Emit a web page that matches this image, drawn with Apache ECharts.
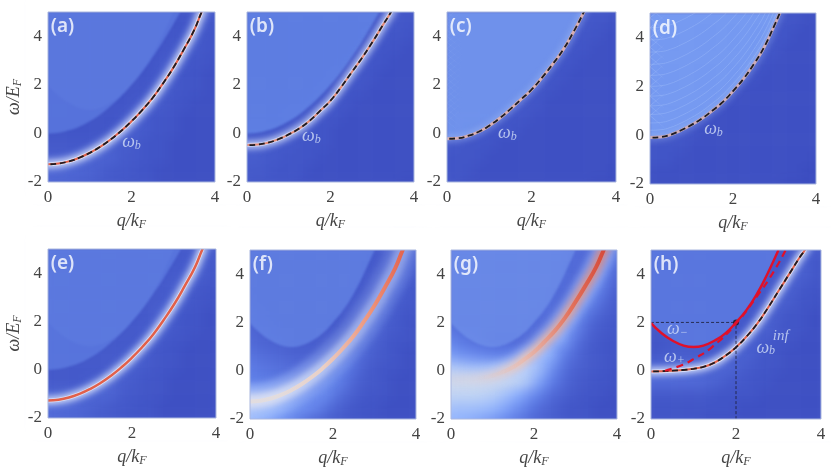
<!DOCTYPE html>
<html>
<head>
<meta charset="UTF-8"/>
<title>chart</title>
<script src="https://cdn.jsdelivr.net/npm/echarts@6/dist/echarts.min.js"></script>
<style>
html,body{margin:0;padding:0;background:#fff}
#main{width:831px;height:476px}
/* the picture is a soft raster: blur only the colour layers */
canvas[data-zr-dom-id="zr_0"]{filter:blur(6px)}
canvas[data-zr-dom-id="zr_1"]{filter:blur(0.8px)}
canvas[data-zr-dom-id="zr_2"]{filter:blur(3px)}
canvas[data-zr-dom-id="zr_3"]{filter:blur(0.4px)}
</style>
</head>
<body>
<div id="main"></div>
<script>
var xTicks = [0, 2, 4];
var yTicks = [-2, 0, 2, 4];
// heatmap bins
var qBins = [0.125,0.375,0.625,0.875,1.125,1.375,1.625,1.875,2.125,2.375,2.625,2.875,3.125,3.375,3.625,3.875];
var wBins = [-1.75,-1.25,-0.75,-0.25,0.25,0.75,1.25,1.75,2.25,2.75,3.25,3.75,4.25,4.75];

// colour level x100, rows from the top of the panel down
var fieldA = [
[2,2,2,2,2,2,2,2,2,2,2,2,2,2,4,2],
[2,2,2,2,2,2,2,2,2,2,2,2,2,4,3,2],
[2,2,2,2,2,2,2,2,2,2,2,2,3,4,2,2],
[2,2,2,2,2,2,2,2,2,2,2,3,4,3,2,2],
[2,2,2,2,2,2,2,2,2,2,3,4,3,2,2,1],
[2,2,2,2,2,2,2,2,2,2,4,3,2,2,1,1],
[2,2,2,2,2,2,2,2,2,3,4,3,2,2,1,1],
[2,2,2,2,2,2,2,2,3,4,3,2,2,1,1,1],
[2,2,2,2,2,2,2,3,4,3,2,2,1,1,1,1],
[2,2,2,2,2,2,3,4,4,3,2,2,1,1,1,1],
[3,3,3,3,3,4,4,4,3,2,2,1,1,1,1,1],
[4,4,4,4,5,5,5,3,3,2,2,1,1,1,1,1],
[6,6,6,6,5,4,3,3,2,2,1,1,1,1,1,1],
[6,5,5,4,4,3,3,2,2,2,1,1,1,1,1,1]];
var fieldB = [
[2,2,2,2,2,2,2,2,2,2,2,2,3,3,2,2],
[2,2,2,2,2,2,2,2,2,2,2,2,3,3,2,2],
[2,2,2,2,2,2,2,2,2,2,2,3,3,2,2,1],
[2,2,2,2,2,2,2,2,2,2,3,3,2,2,1,1],
[2,2,2,2,2,2,2,2,2,3,3,2,2,1,1,1],
[2,2,2,2,2,2,2,2,3,3,2,2,1,1,1,1],
[2,2,2,2,2,2,2,3,3,2,2,1,1,1,1,1],
[2,2,2,2,2,2,3,3,2,2,1,1,1,1,1,1],
[2,2,2,2,3,3,3,2,2,1,1,1,1,1,1,1],
[3,3,3,3,3,3,2,2,1,1,1,1,1,1,1,1],
[4,4,4,3,3,2,2,2,1,1,1,1,1,1,1,1],
[4,4,3,3,2,2,2,1,1,1,1,1,1,1,1,1],
[3,3,3,2,2,2,1,1,1,1,1,1,1,1,1,1],
[3,2,2,2,2,1,1,1,1,1,1,1,1,1,0,0]];
var fieldC = [
[2,2,2,2,2,2,2,2,2,2,2,2,2,3,2,1],
[2,2,2,2,2,2,2,2,2,2,2,2,3,2,2,1],
[2,2,2,2,2,2,2,2,2,2,2,3,2,2,1,1],
[2,2,2,2,2,2,2,2,2,2,3,2,2,1,1,1],
[2,2,2,2,2,2,2,2,2,3,2,2,1,1,1,1],
[2,2,2,2,2,2,2,2,3,2,2,1,1,1,1,1],
[2,2,2,2,2,2,2,3,2,2,1,1,1,1,1,1],
[2,2,2,2,2,3,3,2,2,1,1,1,1,1,1,1],
[2,3,3,3,3,2,2,2,1,1,1,1,1,1,1,1],
[3,3,3,2,2,2,2,1,1,1,1,1,1,1,1,1],
[3,3,2,2,2,1,1,1,1,1,1,1,1,1,1,1],
[2,2,2,2,1,1,1,1,1,1,1,1,1,1,1,1],
[2,2,2,1,1,1,1,1,1,1,1,1,1,1,1,0],
[2,2,1,1,1,1,1,1,1,1,1,1,1,0,0,0]];
var fieldD = [
[2,2,2,2,2,2,2,2,2,2,2,2,2,2,1,1],
[2,2,2,2,2,2,2,2,2,2,2,2,2,2,1,1],
[2,2,2,2,2,2,2,2,2,2,2,2,2,1,1,1],
[2,2,2,2,2,2,2,2,2,2,2,2,1,1,1,1],
[2,2,2,2,2,2,2,2,2,2,2,1,1,1,1,1],
[2,2,2,2,2,2,2,2,2,2,1,1,1,1,1,1],
[2,2,2,2,2,2,2,2,1,1,1,1,1,1,1,1],
[2,2,2,2,2,2,2,1,1,1,1,1,1,1,1,1],
[3,3,3,2,2,2,1,1,1,1,1,1,1,1,1,1],
[3,2,2,2,2,1,1,1,1,1,1,1,1,1,1,1],
[2,2,2,2,1,1,1,1,1,1,1,1,1,1,1,1],
[2,2,2,1,1,1,1,1,1,1,1,1,1,1,1,0],
[1,1,1,1,1,1,1,1,1,1,1,1,1,1,0,0],
[1,1,1,1,1,1,1,1,1,1,1,1,0,0,0,0]];
var fieldE = [
[3,3,3,3,3,3,3,3,3,3,3,3,3,3,5,2],
[3,3,3,3,3,3,3,3,3,3,3,3,3,5,4,2],
[3,3,3,3,3,3,3,3,3,3,3,3,4,5,3,2],
[3,3,3,3,3,3,3,3,3,3,3,4,5,3,2,2],
[3,3,3,3,3,3,3,3,3,3,3,5,4,2,2,1],
[3,3,3,3,3,3,3,3,3,3,5,4,2,2,1,1],
[3,3,3,3,3,3,3,3,3,4,5,3,2,2,1,1],
[3,3,3,3,3,3,3,3,3,5,3,2,2,1,1,1],
[3,3,3,3,3,3,3,4,5,3,2,2,1,1,1,1],
[3,3,3,3,3,3,4,5,4,3,2,2,1,1,1,1],
[3,3,3,3,4,4,5,4,3,2,2,1,1,1,1,1],
[5,5,5,5,6,6,5,3,3,2,2,1,1,1,1,1],
[7,7,7,6,5,4,3,3,2,2,1,1,1,1,1,1],
[7,6,5,5,4,3,3,2,2,2,1,1,1,1,1,1]];
var fieldF = [
[4,4,4,4,4,4,4,4,4,4,4,4,3,3,7,4],
[4,4,4,4,4,4,4,4,4,4,4,3,3,6,7,3],
[4,4,4,4,4,4,4,4,4,4,4,3,4,8,5,3],
[4,4,4,4,4,4,4,4,4,4,3,3,7,7,3,2],
[5,4,4,4,4,4,4,4,4,4,3,5,8,4,3,2],
[5,5,4,4,4,4,4,4,4,3,4,8,6,3,2,2],
[6,5,5,4,4,4,4,4,3,3,7,8,4,3,2,1],
[7,6,5,5,4,4,4,4,4,5,9,5,3,2,2,1],
[9,8,7,6,5,5,5,5,6,10,7,4,3,2,1,1],
[11,10,9,8,7,7,7,8,12,10,5,3,2,2,1,1],
[12,12,11,10,10,10,11,14,12,7,4,3,2,1,1,1],
[18,18,17,16,15,15,15,14,8,5,3,2,2,1,1,1],
[30,29,26,23,19,16,13,8,5,3,2,2,1,1,1,1],
[29,26,22,17,12,8,5,4,3,2,2,1,1,1,1,1]];
var fieldG = [
[8,8,8,8,8,8,8,8,8,8,8,7,6,7,14,8],
[8,8,8,8,8,8,8,8,8,8,8,7,7,12,15,6],
[8,8,8,8,8,8,8,8,8,8,8,6,9,16,10,4],
[8,8,8,8,8,8,8,8,8,8,7,7,13,15,7,4],
[8,8,8,8,8,8,8,8,8,8,6,9,17,10,5,3],
[8,8,8,8,8,8,8,8,8,7,9,17,11,6,4,3],
[9,8,8,8,8,8,8,8,7,8,17,15,7,4,3,2],
[13,11,9,8,7,7,7,7,9,15,22,10,5,3,2,2],
[20,17,15,13,12,12,13,16,23,26,12,7,4,3,2,2],
[34,32,30,29,29,30,32,34,30,17,9,5,4,3,2,1],
[42,42,42,42,42,41,39,33,21,12,7,4,3,2,2,1],
[38,38,38,37,35,31,25,18,12,7,5,3,2,2,1,1],
[31,30,30,29,27,22,16,11,7,5,3,2,2,1,1,1],
[26,25,23,20,17,13,10,7,5,4,3,2,2,1,1,1]];
var fieldH = [
[3,3,3,3,3,3,3,3,3,3,3,3,3,3,5,2],
[3,3,3,3,3,3,3,3,3,3,3,3,3,5,3,2],
[3,3,3,3,3,3,3,3,3,3,3,3,4,5,3,2],
[3,3,3,3,3,3,3,3,3,3,3,4,5,3,2,2],
[3,3,3,3,3,3,3,3,3,3,3,5,4,2,2,1],
[3,3,3,3,3,3,3,3,3,3,5,4,2,2,1,1],
[3,3,3,3,3,3,3,3,3,4,5,3,2,2,1,1],
[2,2,3,3,3,3,3,3,3,5,3,2,2,1,1,1],
[2,3,4,4,4,4,4,3,5,4,2,2,1,1,1,1],
[6,6,6,6,5,5,6,6,4,3,2,2,1,1,1,1],
[7,7,7,7,7,6,5,3,3,2,2,1,1,1,1,1],
[3,3,3,3,3,3,2,2,2,2,1,1,1,1,1,1],
[2,2,2,2,2,2,2,2,1,1,1,1,1,1,1,1],
[2,2,2,2,2,1,1,1,1,1,1,1,1,1,1,1]];

// bound state branches [q, omega]
var curveA = [[-0.4,-1.27],[0,-1.27],[0.25,-1.24],[0.5,-1.15],[0.75,-1],[1,-0.8],[1.25,-0.55],[1.5,-0.25],[1.75,0.1],[2,0.5],[2.25,0.95],[2.5,1.45],[2.75,2.05],[3,2.7],[3.25,3.45],[3.5,4.25],[3.68,5],[3.9,5.8]];
var curveB = [[-0.4,-0.48],[0,-0.48],[0.25,-0.46],[0.5,-0.38],[0.75,-0.24],[1,-0.04],[1.25,0.2],[1.5,0.52],[1.75,0.93],[2,1.35],[2.25,1.9],[2.5,2.5],[2.75,3.1],[3,3.75],[3.25,4.45],[3.45,5],[3.6,5.5]];
var curveC = [[-0.4,-0.22],[0,-0.22],[0.25,-0.2],[0.5,-0.1],[0.75,0.07],[1,0.32],[1.25,0.63],[1.5,1],[1.75,1.4],[2,1.8],[2.25,2.3],[2.5,2.85],[2.75,3.45],[3,4.2],[3.24,5],[3.4,5.6]];
var curveD = [[-0.4,-0.1],[0,-0.1],[0.25,-0.08],[0.5,0.02],[0.75,0.2],[1,0.42],[1.25,0.68],[1.5,1],[1.75,1.35],[2,1.8],[2.25,2.3],[2.5,2.9],[2.75,3.6],[3,4.5],[3.13,5],[3.3,5.6]];
var curveG = [[-0.4,-0.35],[0,-0.35],[0.25,-0.34],[0.5,-0.32],[0.75,-0.28],[1,-0.2],[1.25,-0.05],[1.5,0.15],[1.75,0.45],[2,0.78],[2.25,1.2],[2.5,1.65],[2.75,2.2],[3,2.85],[3.25,3.55],[3.5,4.3],[3.68,5],[3.9,5.8]];
var curveH = [[-0.4,-0.03],[0,-0.03],[0.25,-0.02],[0.5,0],[0.75,0.03],[1,0.08],[1.25,0.17],[1.5,0.34],[1.75,0.62],[2,0.97],[2.25,1.42],[2.5,1.95],[2.75,2.6],[3,3.3],[3.25,4],[3.5,4.7],[3.62,5],[3.8,5.6]];
// continuum edges
var edgeFree = [[0,0],[0.25,0.03],[0.5,0.13],[0.75,0.28],[1,0.5],[1.25,0.78],[1.5,1.13],[1.75,1.53],[2,2],[2.25,2.53],[2.5,3.13],[2.75,3.78],[3,4.5],[3.17,5]];
var edgeMinus = [[0,1.97],[0.25,1.55],[0.5,1.25],[0.75,1.05],[1,0.98],[1.25,1.05],[1.5,1.25],[1.75,1.55],[2,2],[2.25,2.52],[2.5,3.2],[2.75,4.05],[3,5]];
var edgePlus = [[0.33,0],[0.75,0.25],[1,0.48],[1.43,0.97],[2,1.95],[2.5,3.1],[2.85,4],[3.17,5]];
var guideH = [[0,2],[2,2]];
var guideV = [[2,-2],[2,2]];
var crossing = [[2,2]];
// faint interference fringes in the upper left of (c) and (d)
var rippleSteps = [0.3,0.6,0.95,1.3,1.7,2.1,2.55,3,3.5,4,4.5];
var latticeD = [0.8,1.2,1.6,2,2.4,2.8,3.2,3.6,4,4.4,4.8,5.2];
var latticeC = [0.5,0.75,1,1.25,1.5,1.75,2,2.25,2.5,2.75,3,3.25,3.5,3.75,4,4.25,4.5,4.75,5];

var panels = [
 {tag:'(a)',box:[48,12,167,170],field:fieldA,curve:curveA,yName:true},
 {tag:'(b)',box:[247,12,167,170],field:fieldB,curve:curveB},
 {tag:'(c)',box:[447,12,169,170],field:fieldC,curve:curveC},
 {tag:'(d)',box:[650,13,166,171],field:fieldD,curve:curveD},
 {tag:'(e)',box:[48,249,168,169],field:fieldE,curve:curveA,yName:true},
 {tag:'(f)',box:[250,250,166,169],field:fieldF,curve:curveA},
 {tag:'(g)',box:[451,250,166,169],field:fieldG,curve:curveG},
 {tag:'(h)',box:[651,250,170,169],field:fieldH,curve:curveH}
];

var serif = '"Liberation Serif","DejaVu Serif",serif';
var rich = {
    i:{fontFamily:serif,fontStyle:'italic',fontSize:18,color:'#444'},
    s:{fontFamily:serif,fontStyle:'italic',fontSize:12,color:'#444',padding:[7,0,0,0]}
};
var pale = {
    i:{fontFamily:serif,fontStyle:'italic',fontSize:18,color:'#d3def8'},
    s:{fontFamily:serif,fontStyle:'italic',fontSize:12,color:'#d3def8',padding:[7,0,0,0]},
    u:{fontFamily:serif,fontStyle:'italic',fontSize:15,color:'#d3def8'}
};

var grids = [], xAxes = [], yAxes = [], series = [], heatIdx = [], masks = [];

// gradient along q, stops given at q = -0.4 .. 3.9 in even steps
function along(c){
    var stops = [], n = c.length;
    for(var i=0;i<n;i++) stops.push({offset:i/(n-1),color:c[i]});
    return {type:'linear',x:0,y:0,x2:1,y2:0,colorStops:stops};
}

panels.forEach(function(p,k){
    var b = p.box, over = 10, m = 22;
    // heat grid runs a bit past the panel so the blur has no white fringe
    grids.push({left:b[0]-over,top:b[1]-over,width:b[2]+2*over,height:b[3]+2*over});
    grids.push({left:b[0],top:b[1],width:b[2],height:b[3],show:true,borderColor:'#a9b6de',borderWidth:1,backgroundColor:'transparent',zlevel:5});
    xAxes.push({type:'category',gridIndex:k*2,data:qBins,show:false});
    yAxes.push({type:'category',gridIndex:k*2,data:wBins,show:false});
    xAxes.push({
        type:'value',gridIndex:k*2+1,position:'bottom',min:0,max:4,interval:2,zlevel:5,
        axisLine:{show:false},axisTick:{show:false},splitLine:{show:false},
        axisLabel:{customValues:xTicks,fontFamily:serif,fontSize:17,color:'#444',margin:7},
        name:'{i|q/k}{s|F}',nameLocation:'middle',nameGap:30,nameTextStyle:{rich:rich}
    });
    yAxes.push({
        type:'value',gridIndex:k*2+1,position:'left',min:-2,max:5,interval:2,zlevel:5,
        axisLine:{show:false},axisTick:{show:false},splitLine:{show:false},
        axisLabel:{customValues:yTicks,fontFamily:serif,fontSize:17,color:'#444',margin:6},
        name:p.yName?'{i|ω/E}{s|F}':'',nameLocation:'middle',nameGap:23,nameTextStyle:{rich:rich}
    });
    // white frame hides what the blur and the wide strokes push out of the panel
    [[b[0]-m,b[1]-m,b[2]+2*m,m],[b[0]-m,b[1]+b[3],b[2]+2*m,m],[b[0]-m,b[1],m,b[3]],[b[0]+b[2],b[1],m,b[3]]].forEach(function(r){
        masks.push({type:'rect',zlevel:4,silent:true,shape:{x:r[0],y:r[1],width:r[2],height:r[3]},style:{fill:'#fff'}});
    });

    var cx = k*2, vx = k*2+1;
    var cells = [];
    p.field.forEach(function(row,r){
        row.forEach(function(v,c){ cells.push([c,p.field.length-1-r,v]); });
    });
    heatIdx.push(series.length);
    series.push({type:'heatmap',xAxisIndex:cx,yAxisIndex:cx,data:cells,progressive:0,silent:true,zlevel:0});

    function fill(data,color,op){
        series.push({type:'line',xAxisIndex:vx,yAxisIndex:vx,data:data,smooth:true,showSymbol:false,silent:true,zlevel:1,
            lineStyle:{width:0},areaStyle:{origin:'end',color:color,opacity:op}});
    }
    function stroke(data,width,color,op,dash){
        series.push({type:'line',xAxisIndex:vx,yAxisIndex:vx,data:data,smooth:true,showSymbol:false,silent:true,
            zlevel:width>=5?2:3,
            lineStyle:{width:width,color:color,opacity:op===undefined?1:op,type:dash||'solid',cap:'butt'}});
    }
    function lattice(steps,op,width){
        var fade = {type:'linear',x:0,y:0,x2:1,y2:0,colorStops:[{offset:0,color:'rgba(176,200,255,'+op+')'},{offset:1,color:'rgba(176,200,255,0)'}]};
        steps.forEach(function(w){
            stroke([[0,w],[0.35,w+0.5]],width,fade);
            stroke([[0,w],[0.35,w-0.5]],width,fade);
        });
    }

    if(k==0||k==4){
        fill(edgeFree,'#6486e8',0.6);
        fill(edgeMinus,'#7a9cf0',0.12);
        stroke(p.curve,13,'#9ab4f6',0.4);
        stroke(p.curve,6,'#eef2fd',0.9);
        stroke(p.curve,4,'#f2f4fd',0.6);
        stroke(p.curve,k==0?2:2.5,'#e2604a');
        if(k==0) stroke(p.curve,1.8,'#1c1c22',1,[6,3.5]);
    }
    if(k==1){
        fill(edgeFree,'#6a8eec',0.7);
        stroke(p.curve,10,'#a2b8f4',0.35);
        stroke(p.curve,6,'#e4ebfc',0.8);
        stroke(p.curve,4,'#f2f4fd',0.5);
        stroke(p.curve,2,'#e58a76');
        stroke(p.curve,1.8,'#1c1c22',1,[6,3.5]);
    }
    if(k==2){
        fill(p.curve.slice(1,15),'#7aa0f4',0.8);
        lattice(latticeC,0.14,0.8);
        stroke(p.curve,6,'#a8c0f6',0.5);
        stroke(p.curve,3,'#d8aeb0');
        stroke(p.curve,1.8,'#1c1c22',1,[6,3.5]);
    }
    if(k==3){
        fill(p.curve.slice(1,15),'#7fa6f8',0.85);
        rippleSteps.forEach(function(d){
            var arc = p.curve.map(function(pt){ return [pt[0],pt[1]+d]; });
            stroke(arc,1,'#a6c2fc',0.35);
        });
        lattice(latticeD,0.4,1);
        stroke(p.curve,6,'#a8c0f6',0.4);
        stroke(p.curve,3,'#ccabb8');
        stroke(p.curve,1.8,'#1c1c22',1,[6,3.5]);
    }
    if(k==5){
        fill(edgeMinus,'#7094ee',0.55);
        stroke(p.curve,34,along(['rgba(170,195,250,.7)','rgba(170,195,250,.55)','rgba(170,195,250,.3)','rgba(170,195,250,.2)','rgba(170,195,250,.15)']));
        stroke(p.curve,15,along(['rgba(218,222,240,1)','rgba(216,222,242,.95)','rgba(210,220,245,.7)','rgba(205,215,245,.5)','rgba(205,215,245,.4)']));
        stroke(p.curve,4,along(['rgb(226,221,224)','rgb(226,220,222)','rgb(234,208,198)','rgb(238,150,124)','rgb(225,85,65)']));
    }
    if(k==6){
        fill(edgeMinus,'#7ba0f2',0.5);
        stroke(p.curve,24,along(['rgba(205,215,245,.15)','rgba(205,215,245,.2)','rgba(200,215,250,.4)','rgba(180,200,250,.4)','rgba(180,200,250,.35)']));
        stroke(p.curve,11,along(['rgba(228,215,215,.1)','rgba(236,212,205,.35)','rgba(242,200,180,.85)','rgba(240,165,140,.8)','rgba(232,120,95,.7)']));
        stroke(p.curve,4,along(['rgba(235,205,190,0)','rgba(235,205,190,0)','rgba(244,175,150,.4)','rgba(228,110,85,.9)','rgba(210,62,48,1)']));
    }
    if(k==7){
        fill(edgeMinus,'#6486e8',0.66);
        stroke(p.curve,11,'#a2b8f4',0.4);
        stroke(p.curve,6,'#eef2fd',0.85);
        stroke(p.curve,4,'#f2f4fd',0.6);
        stroke(p.curve,2,'#e2604a');
        stroke(p.curve,1.8,'#1c1c22',1,[6,3.5]);
        stroke(guideH,0.8,'#1c1c30',1,[3,2]);
        stroke(guideV,0.8,'#1c1c30',1,[3,2]);
        stroke(edgeMinus,2.4,'#e0102a');
        stroke(edgePlus,2.2,'#e0102a',1,[7,5]);
        series.push({type:'scatter',xAxisIndex:vx,yAxisIndex:vx,data:crossing,symbolSize:6,silent:true,zlevel:3,itemStyle:{color:'#141418'}});
    }

    // panel tag
    series.push({type:'scatter',xAxisIndex:vx,yAxisIndex:vx,data:[[0.02,4.38]],symbolSize:0,silent:true,zlevel:5,
        label:{show:true,position:'right',distance:2,formatter:p.tag,fontFamily:'"Noto Sans","Open Sans",sans-serif',fontWeight:600,fontSize:19,color:'#fff'}});
});

// curve names inside the panels: panel, q, omega, text
var notes = [
 [0,2,-0.35,'{i|ω}{s|b}'],
 [1,1.54,-0.1,'{i|ω}{s|b}'],
 [2,1.43,0,'{i|ω}{s|b}'],
 [3,1.53,0.25,'{i|ω}{s|b}'],
 [7,0.62,1.72,'{i|ω}{s|−}'],
 [7,0.55,0.55,'{i|ω}{s|+}'],
 [7,2.7,0.95,'{i|ω}{s|b}'],
 [7,3.05,1.45,'{u|inf}']
];
notes.forEach(function(n){
    series.push({type:'scatter',xAxisIndex:n[0]*2+1,yAxisIndex:n[0]*2+1,data:[[n[1],n[2]]],symbolSize:0,silent:true,zlevel:5,
        label:{show:true,position:'inside',formatter:n[3],rich:pale}});
});

var chart = echarts.init(document.getElementById('main'),null,{renderer:'canvas'});
chart.setOption({
    animation:false,
    grid:grids,xAxis:xAxes,yAxis:yAxes,
    graphic:{elements:masks},
    visualMap:{show:false,seriesIndex:heatIdx,min:0,max:100,calculable:false,
        inRange:{color:['#3b4cc0','#6282ea','#8db0fe','#c0d4f5','#dddddd','#f5c4ad','#f4987a','#de604d','#b40426']}},
    series:series
});
</script>
</body>
</html>
